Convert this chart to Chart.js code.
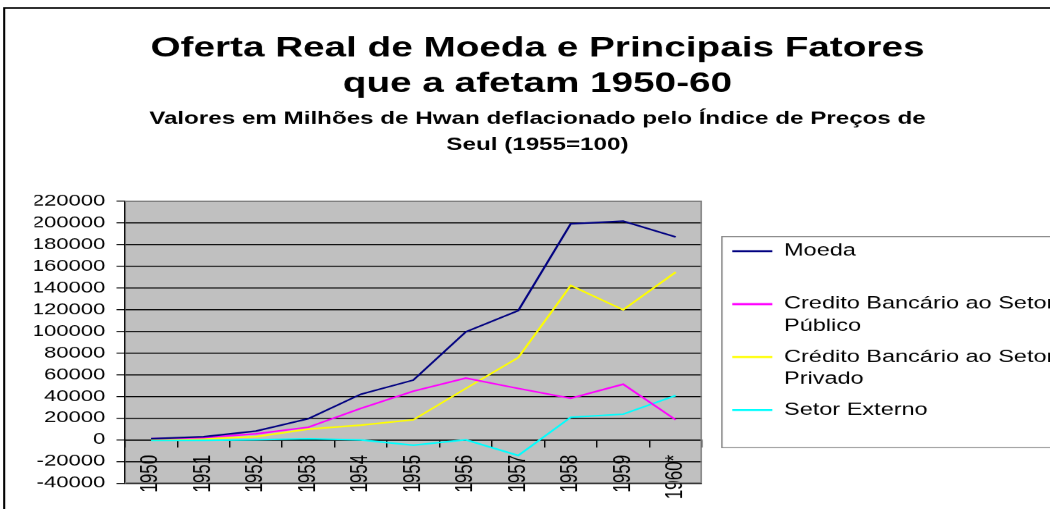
<!DOCTYPE html>
<html>
<head>
<meta charset="utf-8">
<script src="https://cdn.jsdelivr.net/npm/chart.js@4.4.1/dist/chart.umd.min.js"></script>
<style>
html, body { margin: 0; padding: 0; background: #fff; overflow: hidden; }
/* the original Excel picture is stretched sideways, so the chart is drawn narrow and widened */
#wrap { position: absolute; left: 0; top: 0; width: 760px; height: 509px;
        transform: scaleX(1.381579); transform-origin: 0 0; }
</style>
</head>
<body>
<div id="wrap"><canvas id="myChart"></canvas></div>
<script>
var years = ['1950', '1951', '1952', '1953', '1954', '1955', '1956', '1957', '1958', '1959', '1960*'];

var moeda          = [1000, 2800, 8000, 19400, 42000, 55000, 99500, 119000, 199000, 201500, 187000];
var creditoPublico = [1000, 2000, 5500, 11600, 29000, 44800, 56800, 47300, 38300, 51200, 18400];
var creditoPrivado = [500, 1000, 2800, 9800, 13500, 18400, 47300, 75800, 142200, 119800, 154500];
var setorExterno   = [-500, -500, 0, 900, -200, -5000, 0, -14500, 20800, 23600, 40800];

var seriesNames = ['Moeda', 'Credito Bancário ao Setor Público', 'Crédito Bancário ao Setor Privado', 'Setor Externo'];
var legendLines = [['Moeda', ''], ['Credito Bancário ao Setor', 'Público'], ['Crédito Bancário ao Setor', 'Privado'], ['Setor Externo', '']];
var colors = ['#000080', '#ff00ff', '#ffff00', '#00ffff'];

var titleLines = ['Oferta Real de Moeda e Principais Fatores', 'que a afetam 1950-60'];
var subtitleLines = ['Valores em Milhões de Hwan deflacionado pelo Índice de Preços de', 'Seul (1955=100)'];

var yMin = -40000, yMax = 220000, yStep = 20000;

Chart.defaults.font.family = '"Liberation Sans", Arial, sans-serif';
Chart.defaults.color = '#000';

/* gray plot area, legend frame and outer border */
var plotFrame = {
  id: 'plotFrame',
  afterLayout: function(chart) {
    chart.legend.left += 13;
    chart.legend.right += 13;
    chart.legend.top += 2;
    chart.legend.bottom += 2;
  },
  beforeDraw: function(chart) {
    var a = chart.chartArea, c = chart.ctx;
    c.save();
    c.fillStyle = '#c0c0c0';
    c.fillRect(a.left, a.top, a.right - a.left, a.bottom - a.top);
    c.restore();
  },
  beforeDatasetsDraw: function(chart) {
    var a = chart.chartArea, c = chart.ctx;
    c.save();
    c.strokeStyle = '#808080';
    c.lineWidth = 1;
    c.beginPath();
    c.moveTo(a.left, a.top + 0.5);
    c.lineTo(a.right - 0.5, a.top + 0.5);
    c.lineTo(a.right - 0.5, a.bottom - 0.5);
    c.lineTo(a.left, a.bottom - 0.5);
    c.stroke();
    c.restore();
  },
  afterDraw: function(chart) {
    var c = chart.ctx, lg = chart.legend, a = chart.chartArea;
    var mid = (a.top + a.bottom) / 2;
    c.save();
    c.strokeStyle = '#808080';
    c.lineWidth = 1;
    c.strokeRect(lg.left + 1.5, mid - 105.5, chart.width, 211);
    c.strokeStyle = '#000';
    c.lineWidth = 1.5;
    c.beginPath();
    c.moveTo(3, chart.height + 5);
    c.lineTo(3, 8);
    c.lineTo(chart.width + 5, 8);
    c.stroke();
    c.restore();
  }
};

var series = [moeda, creditoPublico, creditoPrivado, setorExterno];
var data = {
  labels: years,
  datasets: series.map(function(values, i) {
    return {
      label: seriesNames[i],
      data: values,
      borderColor: colors[i],
      backgroundColor: colors[i],
      borderWidth: 1.6,
      pointRadius: 0,
      tension: 0,
      fill: false
    };
  })
};

const config = {
  type: 'line',
  data: data,
  plugins: [plotFrame],
  options: {
    responsive: true,
    maintainAspectRatio: false,
    animation: false,
    devicePixelRatio: 1.381579,
    layout: {
      padding: { top: 8, left: 25, right: 7, bottom: 26 }
    },
    scales: {
      x: {
        type: 'category',
        position: { y: 0 },
        offset: true,
        grid: {
          offset: true,
          drawOnChartArea: false,
          drawTicks: true,
          tickLength: 7,
          color: '#000',
          tickColor: '#000'
        },
        border: { color: '#000', width: 1 },
        ticks: {
          autoSkip: false,
          minRotation: 90,
          maxRotation: 90,
          padding: 8,
          color: '#000',
          font: { size: 17 }
        }
      },
      y: {
        min: yMin,
        max: yMax,
        afterFit: function(scale) { scale.width = 65.3; },
        grid: {
          color: function(ctx) {
            if (ctx.tick && ctx.tick.value === yMax) return '#808080';
            return '#000';
          },
          tickColor: '#000',
          tickLength: 6
        },
        border: { color: '#000', width: 1 },
        ticks: {
          autoSkip: false,
          stepSize: yStep,
          padding: 8,
          color: '#000',
          font: { size: 16 },
          callback: function(v) { return String(v); }
        }
      }
    },
    plugins: {
      title: {
        display: true,
        text: titleLines,
        color: '#000',
        font: { size: 28, weight: 'bold', lineHeight: 35 / 28 },
        padding: { top: 23.5, bottom: 0 }
      },
      subtitle: {
        display: true,
        text: subtitleLines,
        color: '#000',
        font: { size: 17.5, weight: 'bold', lineHeight: 26 / 17.5 },
        padding: { top: 4.5, bottom: 43 }
      },
      legend: {
        display: true,
        position: 'right',
        fullSize: false,
        maxWidth: 245,
        labels: {
          boxWidth: 29,
          boxHeight: 2,
          padding: 9,
          color: '#000',
          font: { size: 17, lineHeight: 22 / 17 },
          generateLabels: function(chart) {
            return Chart.defaults.plugins.legend.labels.generateLabels(chart).map(function(item, i) {
              item.text = legendLines[i];
              item.fillStyle = colors[i];
              item.strokeStyle = colors[i];
              item.lineWidth = 0;
              return item;
            });
          }
        }
      },
      tooltip: { enabled: false }
    }
  }
};

var myChart = new Chart(document.getElementById('myChart'), config);
</script>
</body>
</html>
